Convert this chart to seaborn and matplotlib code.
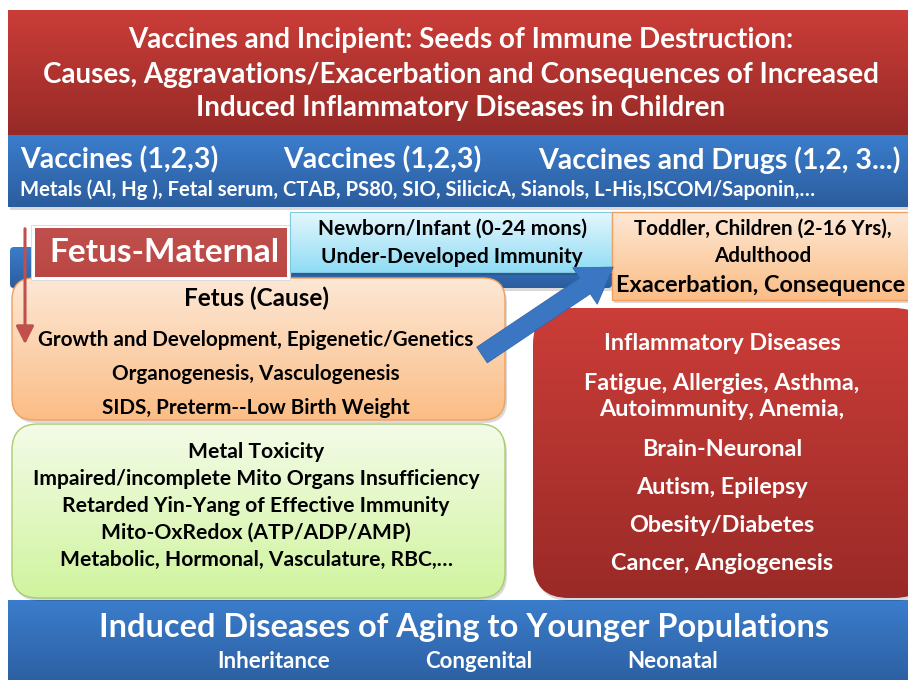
import numpy as np
import matplotlib
matplotlib.use("Agg")
import matplotlib.pyplot as plt
import seaborn as sns
from matplotlib.colors import LinearSegmentedColormap
from matplotlib.patches import FancyBboxPatch, FancyArrow

# --- text content of the diagram ---
title_lines = [
    "Vaccines and Incipient: Seeds of Immune Destruction:",
    "Causes, Aggravations/Exacerbation and Consequences of Increased",
    "Induced Inflammatory Diseases in Children",
]
vaccine_heads = ["Vaccines (1,2,3)", "Vaccines (1,2,3)", "Vaccines and Drugs (1,2, 3...)"]
adjuvants = "Metals (Al, Hg ), Fetal serum, CTAB, PS80, SIO, SilicicA, Sianols, L-His,ISCOM/Saponin,…"
maternal_label = "Fetus-Maternal"
newborn_lines = ["Newborn/Infant (0-24 mons)", "Under-Developed Immunity"]
toddler_lines = ["Toddler, Children (2-16 Yrs),", "Adulthood"]
toddler_head = "Exacerbation, Consequence"
fetus_lines = [
    "Fetus (Cause)",
    "Growth and Development, Epigenetic/Genetics",
    "Organogenesis, Vasculogenesis",
    "SIDS, Preterm--Low Birth Weight",
]
metal_lines = [
    "Metal Toxicity",
    "Impaired/incomplete Mito Organs Insufficiency",
    "Retarded Yin-Yang of Effective Immunity",
    "Mito-OxRedox (ATP/ADP/AMP)",
    "Metabolic, Hormonal, Vasculature, RBC,…",
]
disease_lines = [
    "Inflammatory Diseases",
    "Fatigue, Allergies, Asthma,",
    "Autoimmunity, Anemia,",
    "Brain-Neuronal",
    "Autism, Epilepsy",
    "Obesity/Diabetes",
    "Cancer, Angiogenesis",
]
bottom_head = "Induced Diseases of Aging to Younger Populations"
bottom_terms = ["Inheritance", "Congenital", "Neonatal"]

sns.set_theme(style="white")
plt.rcParams["font.family"] = ["Lato", "DejaVu Sans"]

W, H = 908, 680
fig = plt.figure(figsize=(W / 100, H / 100), dpi=100)
ax = fig.add_axes([0, 0, 1, 1])


def grad_box(x0, y0, x1, y1, c_top, c_bot, rounding=0, ec="none", lw=0, z=1, shadow=True):
    if rounding:
        style = f"round,pad=0,rounding_size={rounding}"
    else:
        style = "square,pad=0"
    if shadow:
        sh = FancyBboxPatch((x0 + 2, y0 + 3), x1 - x0, y1 - y0, boxstyle=style,
                            fc=(0, 0, 0, 0.15), ec="none", zorder=z - 0.2)
        ax.add_patch(sh)
    patch = FancyBboxPatch((x0, y0), x1 - x0, y1 - y0, boxstyle=style,
                           fc="none", ec=ec, lw=lw, zorder=z + 0.1)
    ax.add_patch(patch)
    cmap = LinearSegmentedColormap.from_list("g", [c_top, c_bot])
    im = ax.imshow(np.linspace(0, 1, 256)[:, None], extent=(x0, x1, y1, y0),
                   cmap=cmap, aspect="auto", zorder=z, interpolation="bilinear")
    im.set_clip_path(patch)


def txt(x, y, s, size, color="black", ha="center", z=10):
    ax.text(x, y, s, fontsize=size, color=color, ha=ha, va="center",
            fontweight="bold", zorder=z)


# top banner
grad_box(8, 10, 912, 135, "#cb3d38", "#962a27", z=2)
for y, line in zip([40, 75, 108], title_lines):
    txt(461, y, line, 20, "white")

# blue vaccine band
grad_box(8, 135, 912, 207, "#3b7dcc", "#2b5d9e", z=3)
for x, s in zip([20, 283, 538], vaccine_heads):
    txt(x, 160, s, 20.5, "white", ha="left")
txt(20, 190, adjuvants, 14.6, "white", ha="left")

# blue strip behind the maternal box
grad_box(10, 247, 612, 288, "#3b7dcc", "#2b5d9e", rounding=4, z=3)

# fetus and metal boxes
grad_box(12, 278, 505, 420, "#fde8d6", "#fbbd85", rounding=22, ec="#f0a060", lw=1, z=4)
grad_box(12, 424, 505, 598, "#f4fbe8", "#d0f49e", rounding=26, ec="#a8cc70", lw=1, z=4)

# maternal label box
ax.add_patch(FancyBboxPatch((31, 225), 259, 55, boxstyle="square,pad=0",
                            fc="white", ec="#d8d8d8", lw=0.6, zorder=5))
grad_box(35, 228, 287, 277, "#c0504d", "#bb4744", z=6, shadow=False)
txt(164, 253, maternal_label, 24, "white")

# newborn box
grad_box(290, 212, 612, 272, "#e5f7fd", "#8fdcf5", ec="#7fc8e0", lw=0.8, z=7)
txt(452, 229, newborn_lines[0], 15)
txt(452, 257, newborn_lines[1], 15)

# toddler box
grad_box(612, 212, 912, 300, "#fde8d6", "#fbbd85", ec="#f0a060", lw=1, z=7)
txt(763, 229, toddler_lines[0], 14.8)
txt(763, 256, toddler_lines[1], 14.8)
txt(761, 286, toddler_head, 16.9)

# disease box
grad_box(533, 308, 930, 598, "#cb3d38", "#9a2a27", rounding=36, z=6)
for y, s in zip([344, 383, 410, 450, 488, 525, 563], disease_lines):
    txt(722, y, s, 16.8, "white")

for y, s in zip([298, 340, 374, 408], fetus_lines):
    txt(256, y, s, 17.5 if s == fetus_lines[0] else 14.9, z=8)
for y, s in zip([452, 479, 506, 533, 560], metal_lines):
    txt(256, y, s, 15.2, z=8)

# red down arrow
ax.annotate("", xy=(25, 347), xytext=(25, 226),
            arrowprops=dict(arrowstyle="-|>,head_length=0.9,head_width=0.45",
                            color="#c0504d", lw=2.2), zorder=9)

# big blue arrow
ax.add_patch(FancyArrow(482, 355, 103, -69, width=19, head_width=44,
                        head_length=34, length_includes_head=False,
                        fc="#3a76c2", ec="#2d63a8", lw=0.5, zorder=9))

# bottom band
grad_box(8, 600, 912, 690, "#3b7dcc", "#2b5d9e", z=3)
txt(464, 627, bottom_head, 23.4, "white")
for x, s in zip([274, 479, 673], bottom_terms):
    txt(x, 662, s, 16, "white")

ax.set_xlim(0, W)
ax.set_ylim(H, 0)
ax.axis("off")
fig.savefig("out.png", dpi=100, facecolor="white")
